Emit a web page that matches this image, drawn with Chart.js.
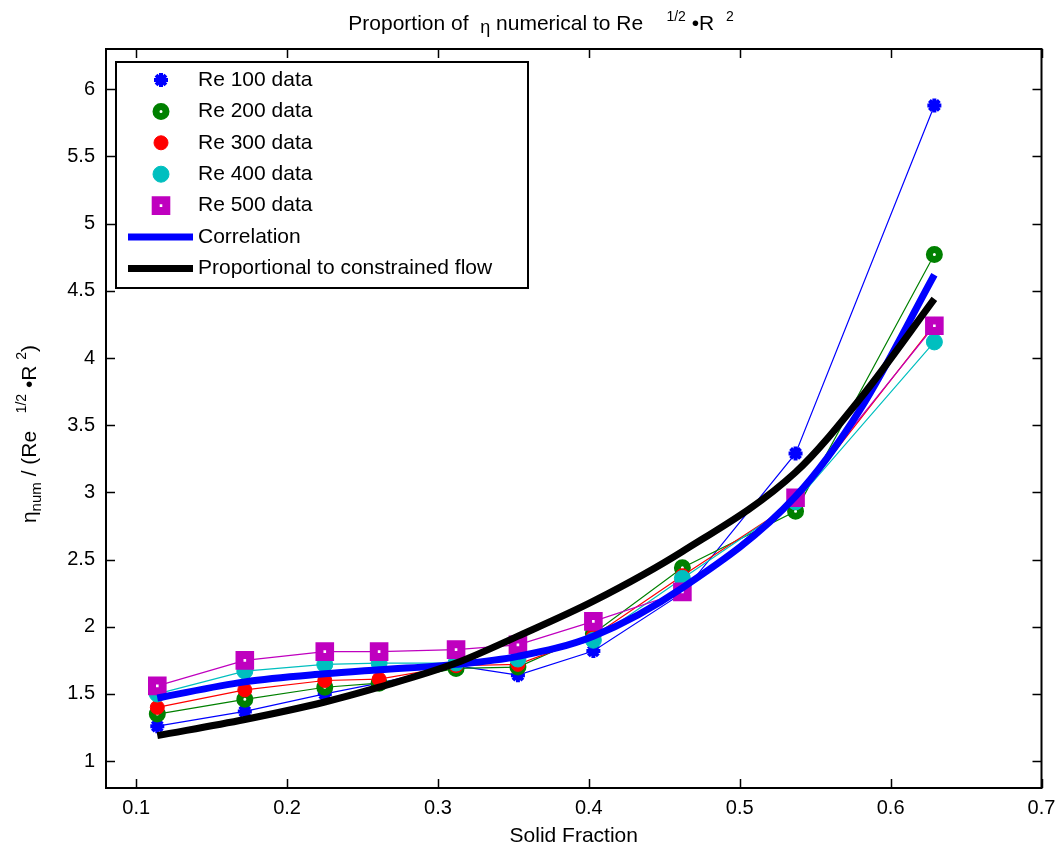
<!DOCTYPE html>
<html>
<head>
<meta charset="utf-8">
<script src="https://cdn.jsdelivr.net/npm/chart.js@4.4.0/dist/chart.umd.min.js"></script>
<style>
html, body { margin: 0; padding: 0; background: #fff; }
</style>
</head>
<body>
<canvas id="chart" width="1057" height="849"></canvas>
<script>
// values
var solidFraction = [0.114, 0.172, 0.225, 0.261, 0.312, 0.353, 0.403, 0.462, 0.537, 0.629]
var re100 = [1.26, 1.37, 1.50, 1.58, 1.71, 1.64, 1.82, 2.25, 3.29, 5.88]
var re200 = [1.35, 1.46, 1.55, 1.58, 1.69, 1.70, 1.95, 2.44, 2.86, 4.77]
var re300 = [1.40, 1.53, 1.60, 1.61, 1.71, 1.72, 1.93, 2.38, 2.93, 4.25]
var re400 = [1.50, 1.67, 1.72, 1.73, 1.73, 1.76, 1.90, 2.36, 2.93, 4.12]
var re500 = [1.56, 1.75, 1.815, 1.815, 1.83, 1.865, 2.04, 2.26, 2.96, 4.24]

var fitX = [0.114, 0.172, 0.225, 0.261, 0.312, 0.353, 0.403, 0.462, 0.537, 0.58, 0.629]
var correlation = [1.47, 1.59, 1.65, 1.68, 1.72, 1.78, 1.93, 2.29, 2.97, 3.62, 4.62]
var constrained = [1.19, 1.31, 1.44, 1.55, 1.73, 1.93, 2.19, 2.56, 3.15, 3.70, 4.44]

var xTicks = [0.1, 0.2, 0.3, 0.4, 0.5, 0.6, 0.7]
var yTicks = [1, 1.5, 2, 2.5, 3, 3.5, 4, 4.5, 5, 5.5, 6]

var FONT = '"Liberation Sans", Arial, sans-serif'

function pts(xs, ys) {
    return xs.map(function (x, i) { return { x: x, y: ys[i] } })
}

function dataSet(label, ys, color, style, radius, bw, bg, order) {
    return {
        label: label,
        data: pts(solidFraction, ys),
        borderColor: color,
        borderWidth: 1.2,
        pointStyle: style,
        pointRadius: radius,
        pointBorderWidth: bw,
        pointBorderColor: color,
        pointBackgroundColor: bg,
        tension: 0,
        order: order
    }
}

var datasets = [
    dataSet('Re 100 data', re100, '#0000ff', 'star', 7, 4, '#0000ff', 6),
    dataSet('Re 200 data', re200, '#008000', 'circle', 5, 7, '#ffffff', 5),
    dataSet('Re 300 data', re300, '#ff0000', 'circle', 7, 1, '#ff0000', 4),
    dataSet('Re 400 data', re400, '#00bfbf', 'circle', 8, 1, '#00bfbf', 3),
    dataSet('Re 500 data', re500, '#bf00bf', 'rect', 7.5, 8, '#ffffff', 2),
    {
        label: 'Correlation',
        data: pts(fitX, correlation),
        borderColor: '#0000ff',
        borderWidth: 7,
        pointRadius: 0,
        cubicInterpolationMode: 'monotone',
        order: 1
    },
    {
        label: 'Proportional to constrained flow',
        data: pts(fitX, constrained),
        borderColor: '#000000',
        borderWidth: 7,
        pointRadius: 0,
        cubicInterpolationMode: 'monotone',
        order: 0
    }
]

// draws a line of text with super/subscripts, centred on x
function richText(ctx, parts, x, y) {
    var total = 0
    parts.forEach(function (p) {
        ctx.font = p.size + 'px ' + FONT
        p.w = ctx.measureText(p.t).width
        total += p.w
    })
    var cx = x - total / 2
    parts.forEach(function (p) {
        ctx.font = p.size + 'px ' + FONT
        ctx.fillText(p.t, cx, y + (p.dy || 0))
        cx += p.w
    })
}

var decor = {
    id: 'decor',
    afterDraw: function (chart) {
        var ctx = chart.ctx
        var a = chart.chartArea
        var xs = chart.scales.x
        var ys = chart.scales.y
        ctx.save()

        // frame and inward ticks
        ctx.strokeStyle = '#000'
        ctx.lineWidth = 2
        ctx.strokeRect(a.left, a.top, a.right - a.left, a.bottom - a.top)
        ctx.lineWidth = 1.5
        ctx.beginPath()
        xTicks.forEach(function (v) {
            var px = Math.round(xs.getPixelForValue(v)) + 0.5
            ctx.moveTo(px, a.bottom); ctx.lineTo(px, a.bottom - 9)
            ctx.moveTo(px, a.top); ctx.lineTo(px, a.top + 9)
        })
        yTicks.forEach(function (v) {
            var py = Math.round(ys.getPixelForValue(v)) + 0.5
            ctx.moveTo(a.left, py); ctx.lineTo(a.left + 9, py)
            ctx.moveTo(a.right, py); ctx.lineTo(a.right - 9, py)
        })
        ctx.stroke()

        // legend
        var lx = 116, ly = 62, lw = 412, lh = 226
        ctx.fillStyle = '#fff'
        ctx.fillRect(lx, ly, lw, lh)
        ctx.lineWidth = 2
        ctx.strokeRect(lx, ly, lw, lh)
        ctx.font = '21px ' + FONT
        ctx.textBaseline = 'middle'
        ctx.textAlign = 'left'
        chart.data.datasets.forEach(function (ds, i) {
            var rowY = ly + 18 + i * 31.4
            if (ds.pointRadius > 0) {
                ctx.fillStyle = ds.pointBackgroundColor
                ctx.strokeStyle = ds.pointBorderColor
                ctx.lineWidth = ds.pointBorderWidth
                Chart.helpers.drawPoint(ctx, {
                    pointStyle: ds.pointStyle, radius: ds.pointRadius,
                    rotation: 0, borderWidth: ds.pointBorderWidth
                }, 161, rowY)
            } else {
                ctx.strokeStyle = ds.borderColor
                ctx.lineWidth = 7
                ctx.beginPath()
                ctx.moveTo(128, rowY); ctx.lineTo(193, rowY)
                ctx.stroke()
            }
            ctx.fillStyle = '#000'
            ctx.fillText(ds.label, 198, rowY)
        })

        // title
        ctx.fillStyle = '#000'
        ctx.textBaseline = 'alphabetic'
        ctx.textAlign = 'left'
        richText(ctx, [
            { t: 'Proportion of  ', size: 21 },
            { t: 'η', size: 18, dy: 3 },
            { t: ' numerical to Re    ', size: 21 },
            { t: '1/2', size: 14, dy: -9 },
            { t: ' •R  ', size: 21 },
            { t: '2', size: 14, dy: -9 }
        ], 541, 30)

        // x label
        ctx.font = '21px ' + FONT
        ctx.textAlign = 'center'
        ctx.fillText('Solid Fraction', (a.left + a.right) / 2, 842)

        // y label
        ctx.translate(36, 434)
        ctx.rotate(-Math.PI / 2)
        ctx.textAlign = 'left'
        richText(ctx, [
            { t: 'η', size: 21 },
            { t: 'num', size: 15, dy: 5 },
            { t: ' / (Re   ', size: 21 },
            { t: '1/2', size: 14, dy: -10 },
            { t: ' •R ', size: 21 },
            { t: '2', size: 14, dy: -10 },
            { t: ')', size: 21 }
        ], 0, 0)

        ctx.restore()
    }
}

new Chart(document.getElementById('chart'), {
    type: 'line',
    data: { datasets: datasets },
    options: {
        responsive: false,
        animation: false,
        layout: { padding: { top: 49, right: 0, left: 0, bottom: 0 } },
        plugins: { legend: { display: false }, title: { display: false }, tooltip: { enabled: false } },
        scales: {
            x: {
                type: 'linear',
                min: 0.08,
                max: 0.7,
                afterBuildTicks: function (s) { s.ticks = xTicks.map(function (v) { return { value: v } }) },
                afterFit: function (s) { s.height = 61; s.paddingRight = 14; s.paddingLeft = 0 },
                grid: { display: false, drawTicks: false },
                border: { display: false },
                ticks: {
                    color: '#000', padding: 8, maxRotation: 0,
                    font: { family: FONT, size: 20 },
                    callback: function (v) { return v.toString() }
                }
            },
            y: {
                type: 'linear',
                min: 0.8,
                max: 6.3,
                afterBuildTicks: function (s) { s.ticks = yTicks.map(function (v) { return { value: v } }) },
                afterFit: function (s) { s.width = 106; s.paddingTop = 0; s.paddingBottom = 0 },
                grid: { display: false, drawTicks: false },
                border: { display: false },
                ticks: {
                    color: '#000', padding: 11,
                    font: { family: FONT, size: 20 },
                    callback: function (v) { return v.toString() }
                }
            }
        }
    },
    plugins: [decor]
})
</script>
</body>
</html>
